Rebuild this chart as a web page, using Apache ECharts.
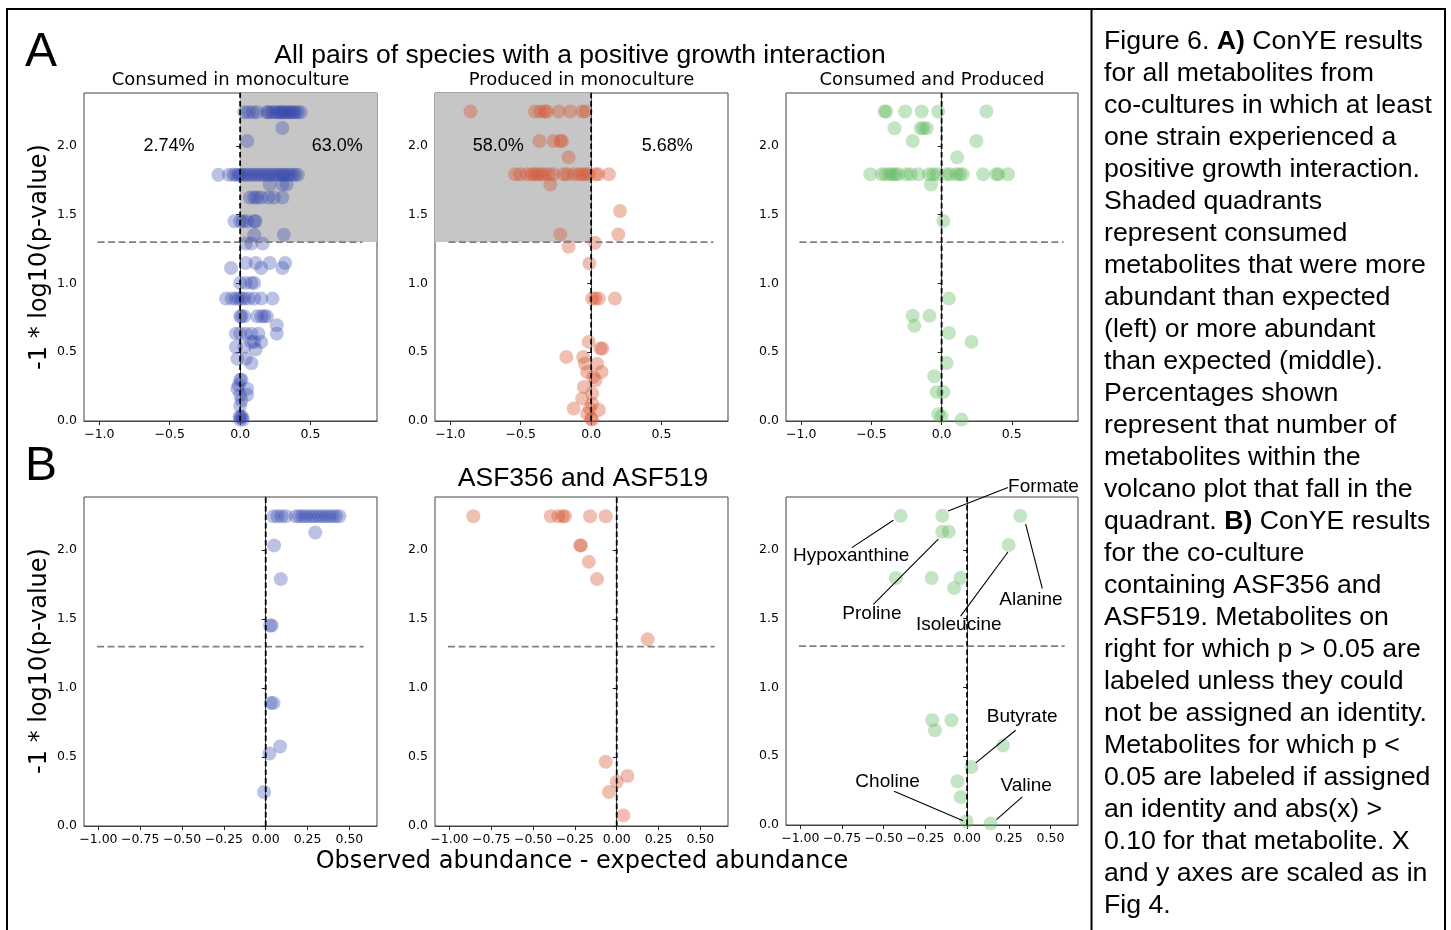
<!DOCTYPE html>
<html><head><meta charset="utf-8">
<script src="https://cdn.jsdelivr.net/npm/echarts@6/dist/echarts.min.js"></script>
<style>html,body{margin:0;padding:0;background:#fff}#c{width:1451px;height:930px}</style>
</head><body><div id="c"></div><script>
// ---------------- data ----------------
// Panel A: all pairs of species with a positive growth interaction  [x = observed - expected, y = -log10(p)]
const consumedAll = [
[0.03,2.245],[0.06,2.245],[0.09,2.245],[0.12,2.245],[0.19,2.245],[0.2,2.245],[0.22,2.245],[0.24,2.245],[0.26,2.245],[0.28,2.245],[0.29,2.245],[0.3,2.245],[0.32,2.245],[0.33,2.245],[0.35,2.245],[0.36,2.245],[0.38,2.245],[0.39,2.245],[0.41,2.245],[0.43,2.245],
[0.3,2.13],[0.05,2.036],
[-0.155,1.79],[-0.08,1.79],[-0.05,1.79],[-0.03,1.79],[-0.01,1.79],[0.0,1.79],[0.02,1.79],[0.04,1.79],[0.06,1.79],[0.08,1.79],[0.1,1.79],[0.12,1.79],[0.14,1.79],[0.16,1.79],[0.18,1.79],[0.2,1.79],[0.22,1.79],[0.24,1.79],[0.26,1.79],[0.28,1.79],[0.3,1.79],[0.31,1.79],[0.33,1.79],[0.35,1.79],[0.37,1.79],[0.39,1.79],[0.41,1.79],
[0.21,1.72],[0.3,1.72],[0.33,1.72],
[0.07,1.625],[0.1,1.625],[0.12,1.625],[0.15,1.625],[0.2,1.625],[0.24,1.625],[0.3,1.625],
[-0.04,1.452],[0.0,1.452],[0.02,1.452],[0.05,1.452],[0.1,1.452],[0.11,1.452],
[0.1,1.355],[0.31,1.355],
[0.04,1.29],[0.08,1.29],[0.16,1.29],
[0.04,1.149],[0.11,1.149],[0.21,1.149],[0.32,1.149],
[-0.065,1.113],[0.15,1.113],[0.3,1.113],
[0.0,1.004],[0.04,1.004],[0.08,1.004],[0.1,1.004],
[-0.1,0.89],[-0.06,0.89],[-0.03,0.89],[-0.01,0.89],[0.01,0.89],[0.03,0.89],[0.06,0.89],[0.1,0.89],[0.15,0.89],[0.23,0.89],
[0.0,0.761],[0.01,0.761],[0.03,0.761],[0.12,0.761],[0.15,0.761],[0.17,0.761],[0.19,0.761],
[0.26,0.696],
[-0.03,0.635],[0.0,0.635],[0.04,0.635],[0.08,0.635],[0.13,0.635],[0.26,0.635],
[0.08,0.575],[0.1,0.575],[0.15,0.575],
[-0.03,0.538],[0.03,0.538],[0.11,0.52],
[-0.02,0.453],[0.04,0.453],[0.08,0.42],
[0.0,0.3],[0.01,0.3],[-0.01,0.26],[-0.02,0.235],[0.05,0.235],[0.0,0.19],[0.05,0.19],[0.01,0.15],[0.0,0.11],
[-0.005,0.03],[0.005,0.03],[0.015,0.03],[0.0,0.01],[0.02,0.01]
];
const producedAll = [
[-0.857,2.25],[-0.398,2.25],[-0.362,2.25],[-0.33,2.25],[-0.315,2.25],[-0.231,2.25],[-0.148,2.25],[-0.064,2.25],[-0.04,2.25],
[-0.367,2.036],[-0.267,2.036],[-0.219,2.036],[-0.207,2.036],
[-0.16,1.917],
[-0.54,1.794],[-0.505,1.794],[-0.457,1.794],[-0.421,1.794],[-0.4,1.794],[-0.38,1.794],[-0.36,1.794],[-0.335,1.794],[-0.302,1.794],[-0.27,1.794],[-0.195,1.794],[-0.17,1.794],[-0.124,1.794],[-0.088,1.794],[-0.064,1.794],[-0.04,1.794],[-0.017,1.794],[0.031,1.794],[0.05,1.794],[0.126,1.794],
[-0.29,1.72],
[0.205,1.527],
[-0.219,1.357],[0.193,1.357],
[0.026,1.296],[-0.16,1.267],[-0.012,1.146],
[0.007,0.89],[0.03,0.89],[0.055,0.89],[0.169,0.89],
[-0.017,0.575],[0.067,0.527],[0.079,0.527],
[-0.176,0.466],[-0.057,0.466],[-0.045,0.417],[0.043,0.417],
[-0.029,0.357],[0.074,0.357],[0.014,0.32],[0.031,0.296],[-0.052,0.248],[0.007,0.2],[-0.064,0.163],[0.007,0.126],
[-0.124,0.09],[-0.01,0.09],[0.055,0.08],[-0.029,0.053],[0.0,0.017],[0.007,0.01]
];
const bothAll = [
[-0.407,2.25],[-0.395,2.25],[-0.26,2.25],[-0.142,2.25],[-0.024,2.25],[0.319,2.25],
[-0.336,2.129],[-0.149,2.129],[-0.13,2.129],[-0.106,2.129],
[-0.206,2.036],[0.248,2.036],
[0.111,1.917],
[-0.508,1.794],[-0.426,1.794],[-0.4,1.794],[-0.37,1.794],[-0.35,1.794],[-0.33,1.794],[-0.31,1.794],[-0.25,1.794],[-0.22,1.794],[-0.165,1.794],[-0.09,1.794],[-0.06,1.794],[-0.03,1.794],[0.035,1.794],[0.06,1.794],[0.106,1.794],[0.13,1.794],[0.15,1.794],[0.296,1.794],[0.39,1.794],[0.405,1.794],[0.473,1.794],
[-0.076,1.72],
[0.012,1.454],
[0.052,0.89],
[-0.206,0.765],[-0.087,0.765],[-0.194,0.692],[0.052,0.64],[0.213,0.575],[0.035,0.422],[-0.052,0.325],[-0.035,0.211],[0.012,0.211],[-0.024,0.049],[0.0,0.034],[0.142,0.01]
];
// Panel B: ASF356 and ASF519
const consumedPair = [
[0.046,2.245],[0.07,2.245],[0.095,2.245],[0.12,2.245],[0.18,2.245],[0.2,2.245],[0.22,2.245],[0.24,2.245],[0.26,2.245],[0.28,2.245],[0.3,2.245],[0.32,2.245],[0.34,2.245],[0.36,2.245],[0.38,2.245],[0.4,2.245],[0.42,2.245],[0.44,2.245],
[0.296,2.128],[0.05,2.034],[0.09,1.79],[0.026,1.453],[0.036,1.453],[0.03,0.891],[0.046,0.891],[0.086,0.576],[0.022,0.525],[-0.01,0.247]
];
const producedPair = [
[-0.857,2.245],[-0.394,2.245],[-0.349,2.245],[-0.323,2.245],[-0.309,2.245],[-0.159,2.245],[-0.066,2.245],
[-0.219,2.034],[-0.213,2.034],[-0.167,1.915],[-0.118,1.79],[0.185,1.353],
[-0.066,0.465],[0.064,0.363],[0.0,0.32],[-0.046,0.247],[0.04,0.077]
];
const bothPair = [
[-0.398,2.248],[-0.149,2.248],[0.319,2.248],
[-0.149,2.133],[-0.11,2.133],[0.249,2.036],
[-0.428,1.796],[-0.213,1.796],[-0.04,1.796],[-0.078,1.723],
[-0.209,0.762],[-0.094,0.762],[-0.193,0.689],[0.215,0.578],[0.026,0.422],[-0.058,0.318],[-0.038,0.204],[-0.004,0.027],[0.141,0.01]
];
// percentages and metabolite labels
const pctLabels = [
  {panel:0, text:'2.74%', pos:[-0.505,2.0]}, {panel:0, text:'63.0%', pos:[0.69,2.0]},
  {panel:1, text:'58.0%', pos:[-0.66,2.0]}, {panel:1, text:'5.68%', pos:[0.54,2.0]}
];
const metaboliteLabels = [
  {name:'Formate',      text:[0.458,2.462],  from:[-0.114,2.284], to:[0.245,2.454]},
  {name:'Hypoxanthine', text:[-0.695,1.956], from:[-0.442,2.216], to:[-0.691,2.017]},
  {name:'Proline',      text:[-0.571,1.537], from:[-0.173,2.078], to:[-0.562,1.604]},
  {name:'Isoleucine',   text:[-0.05,1.459],  from:[0.245,1.985],  to:[-0.039,1.519]},
  {name:'Alanine',      text:[0.383,1.641],  from:[0.351,2.187],  to:[0.451,1.719]},
  {name:'Butyrate',     text:[0.33,0.784],   from:[0.052,0.452],  to:[0.291,0.689]},
  {name:'Choline',      text:[-0.477,0.318], from:[-0.438,0.245], to:[-0.024,0.031]},
  {name:'Valine',       text:[0.354,0.286],  from:[0.331,0.204],  to:[0.176,0.039]}
];
const ticksA = [-1.0,-0.5,0.0,0.5];
const ticksB = [-1.0,-0.75,-0.5,-0.25,0.0,0.25,0.5];
const ticksY = [0.0,0.5,1.0,1.5,2.0];
const threshold = 1.301;
const subTitles = ['Consumed in monoculture','Produced in monoculture','Consumed and Produced'];
const caption = [
'Figure 6. {b|A)} ConYE results','for all metabolites from','co-cultures in which at least','one strain experienced a',
'positive growth interaction.','Shaded quadrants','represent consumed','metabolites that were more',
'abundant than expected','(left) or more abundant','than expected (middle).','Percentages shown',
'represent that number of','metabolites within the','volcano plot that fall in the','quadrant. {b|B)} ConYE results',
'for the co-culture','containing ASF356 and','ASF519. Metabolites on','right for which p > 0.05 are',
'labeled unless they could','not be assigned an identity.','Metabolites for which p <','0.05 are labeled if assigned',
'an identity and abs(x) >','0.10 for that metabolite. X','and y axes are scaled as in','Fig 4.'
];

// ---------------- layout / style ----------------
const A_MIN = -1.109, A_MAX = 0.972, B_MIN = -1.086, B_MAX = 0.665, Y_MAX = 2.385;
const HL_A = [-1.013, 0.869], HL_B = [-1.008, 0.585];
const BLUE = 'rgb(52,70,172)', RED = 'rgb(214,88,52)', GREEN = 'rgb(92,182,88)';
const SANS = 'Liberation Sans', DJV = 'DejaVu Sans';
const grids = [
  {left:84, top:93, width:293, height:328},
  {left:435, top:93, width:293, height:328},
  {left:786, top:93, width:292, height:328},
  {left:84, top:497, width:293, height:329},
  {left:435, top:497, width:293, height:329},
  {left:786, top:497, width:292, height:328}
];
const fmt = d => v => (v < 0 ? '\u2212' : '') + Math.abs(v).toFixed(d);

const xAxes = [], yAxes = [];
for (let i = 0; i < 6; i++) {
  const isA = i < 3, t = isA ? ticksA : ticksB;
  xAxes.push({type:'value', gridIndex:i, min: isA ? A_MIN : B_MIN, max: isA ? A_MAX : B_MAX,
    axisLine:{show:true, lineStyle:{color:'#444', width:1}}, splitLine:{show:false},
    axisTick:{show:true, length:4, customValues:t, lineStyle:{color:'#222'}},
    axisLabel:{customValues:t, formatter: fmt(isA ? 1 : 2), fontFamily:DJV, fontSize:12.5, color:'#000', margin:7}});
  yAxes.push({type:'value', gridIndex:i, min:0, max:Y_MAX,
    axisLine:{show:true, lineStyle:{color:'#444', width:1}}, splitLine:{show:false},
    axisTick:{show:true, length:4, customValues:ticksY, lineStyle:{color:'#222'}},
    axisLabel:{customValues:ticksY, formatter: fmt(1), fontFamily:DJV, fontSize:12.5, color:'#000', margin:7}});
}

const series = [];
function pts(i, data, color, op) {
  series.push({type:'scatter', xAxisIndex:i, yAxisIndex:i, data, symbolSize:14,
    itemStyle:{color, opacity:op}, z:3, silent:true});
}
function ln(i, data, color, width, dash, z) {
  series.push({type:'line', xAxisIndex:i, yAxisIndex:i, data, symbol:'none', clip:false,
    lineStyle:{color, width, type:dash}, z, silent:true});
}
function shade(i, from, to) {
  series.push({type:'scatter', xAxisIndex:i, yAxisIndex:i, data:[], z:1, silent:true,
    markArea:{silent:true, itemStyle:{color:'#c6c6c6'}, data:[[{coord:from},{coord:to}]]}});
}
shade(0, [0, threshold], [A_MAX, Y_MAX]);
shade(1, [A_MIN, threshold], [0, Y_MAX]);
const panelData = [[consumedAll,BLUE,0.33],[producedAll,RED,0.38],[bothAll,GREEN,0.36],
                   [consumedPair,BLUE,0.33],[producedPair,RED,0.38],[bothPair,GREEN,0.36]];
panelData.forEach((p, i) => {
  pts(i, p[0], p[1], p[2]);
  const hl = i < 3 ? HL_A : HL_B;
  ln(i, [[hl[0], threshold],[hl[1], threshold]], '#808080', 1.8, [7,3.5], 4);
  ln(i, [[0,0],[0,Y_MAX]], '#000', 1.8, [5.5,3], 5);
});
metaboliteLabels.forEach(m => ln(5, [m.from, m.to], '#000', 1.1, 'solid', 6));

const T = (x, y, text, font, align, extra) => Object.assign({type:'text', x, y, z:20,
  style:{text, font, fill:'#000', align: align || 'left', verticalAlign:'middle'}}, extra || {});
const graphic = [
  {type:'rect', shape:{x:7, y:9, width:1438, height:940}, style:{fill:'none', stroke:'#000', lineWidth:2}, z:10},
  {type:'line', shape:{x1:1091.5, y1:9, x2:1091.5, y2:940}, style:{stroke:'#000', lineWidth:2}, z:10},
  T(25, 53, 'A', '48px "Liberation Sans"'),
  T(25, 467, 'B', '48px "Liberation Sans"'),
  T(580, 56, 'All pairs of species with a positive growth interaction', '26.5px "Liberation Sans"', 'center'),
  T(583, 479, 'ASF356 and ASF519', '26.5px "Liberation Sans"', 'center'),
  T(40, 257, '-1 * log10(p-value)', '24px "DejaVu Sans"', 'center', {rotation:Math.PI/2}),
  T(40, 661, '-1 * log10(p-value)', '24px "DejaVu Sans"', 'center', {rotation:Math.PI/2}),
  T(582, 862, 'Observed abundance - expected abundance', '24px "DejaVu Sans"', 'center')
];
subTitles.forEach((t, i) => graphic.push(T(grids[i].left + grids[i].width/2, 80, t, '18px "DejaVu Sans"', 'center')));
caption.forEach((t, i) => {
  const g = T(1104, 42 + 32*i, t, '26.7px "Liberation Sans"');
  g.style.rich = {b:{fontWeight:'bold', fontSize:26.7, fontFamily:SANS, fill:'#000'}};
  graphic.push(g);
});

const chart = echarts.init(document.getElementById('c'), null, {renderer:'canvas'});
chart.setOption({
  animation:false, backgroundColor:'#fff',
  grid: grids.map(g => Object.assign({show:true, borderColor:'#444', borderWidth:1, backgroundColor:'transparent'}, g)),
  xAxis: xAxes, yAxis: yAxes, series, graphic
});
// text labels placed through the axes' own scales
pctLabels.forEach(l => {
  const p = chart.convertToPixel({gridIndex:l.panel}, l.pos);
  graphic.push(T(p[0], p[1], l.text, '18px "Liberation Sans"', 'center'));
});
metaboliteLabels.forEach(m => {
  const p = chart.convertToPixel({gridIndex:5}, m.text);
  graphic.push(T(p[0], p[1], m.name, '19px "Liberation Sans"', 'center'));
});
chart.setOption({graphic});
</script></body></html>
